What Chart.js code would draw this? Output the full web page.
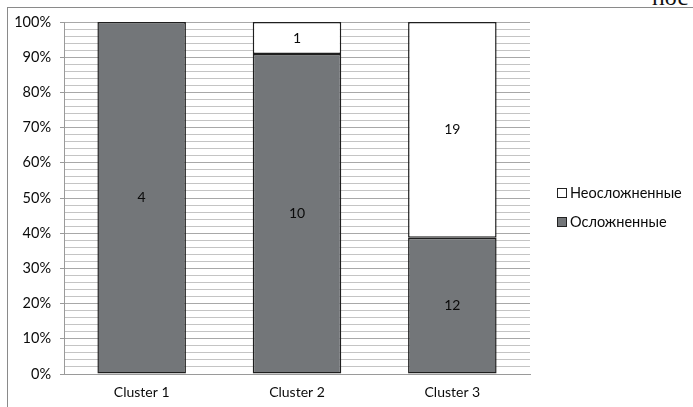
<!DOCTYPE html>
<html>
<head>
<meta charset="utf-8">
<script src="https://cdn.jsdelivr.net/npm/chart.js@4/dist/chart.umd.min.js"></script>
<style>
  html, body { margin: 0; padding: 0; background: #fff; overflow: hidden; }
  body { width: 693px; height: 407px; position: relative; }
  #frame { position: absolute; left: 7px; top: 7px; width: 700px; height: 410px;
           border-top: 1px solid #8a8a8a; border-left: 1px solid #8a8a8a; }
  #wrap { position: absolute; left: 8px; top: 8px; width: 685px; height: 399px; }
  #corner { position: absolute; left: 652px; top: -16px; font: 24px "Liberation Serif", serif; color: #111; }
</style>
</head>
<body>
<div id="frame"></div>
<div id="corner">пос</div>
<div id="wrap"><canvas id="c" width="685" height="399"></canvas></div>
<script>
// Patient counts per cluster
const categories = ['Cluster 1', 'Cluster 2', 'Cluster 3'];
const complicated = [4, 10, 12];     // Осложненные
const uncomplicated = [0, 1, 19];    // Неосложненные
const seriesNames = ['Осложненные', 'Неосложненные'];

// Shares of each cluster total, for the 100% stacked columns
const totals = categories.map((_, i) => complicated[i] + uncomplicated[i]);
const pct = arr => arr.map((v, i) => v / totals[i] * 100);

const countsByDataset = [complicated, uncomplicated];
const FONT = 'Lato, "Open Sans", sans-serif';
const TEXT = '#0a0a0a';

// Prints the raw counts in the middle of each segment
const segmentLabels = {
  id: 'segmentLabels',
  afterDatasetsDraw(chart) {
    const ctx = chart.ctx;
    ctx.save();
    ctx.font = '14px ' + FONT;
    ctx.fillStyle = TEXT;
    ctx.textAlign = 'center';
    ctx.textBaseline = 'middle';
    chart.data.datasets.forEach((ds, di) => {
      chart.getDatasetMeta(di).data.forEach((el, i) => {
        const n = countsByDataset[di][i];
        if (!n) return;
        ctx.fillText(String(n), el.x, (el.y + el.base) / 2);
      });
    });
    ctx.restore();
  }
};

// Legend on the right: hollow box first, then filled box
const sideLegend = {
  id: 'sideLegend',
  afterDraw(chart) {
    const ctx = chart.ctx;
    const items = [
      { label: seriesNames[1], fill: '#ffffff' },
      { label: seriesNames[0], fill: '#737679' }
    ];
    ctx.save();
    ctx.font = '14.5px ' + FONT;
    ctx.textBaseline = 'middle';
    ctx.textAlign = 'left';
    items.forEach((it, k) => {
      const y = 185 + k * 29;
      ctx.fillStyle = it.fill;
      ctx.fillRect(549.5, y - 4.5, 9, 9);
      ctx.strokeStyle = '#222';
      ctx.lineWidth = 1;
      ctx.strokeRect(549.5, y - 4.5, 9, 9);
      ctx.fillStyle = TEXT;
      ctx.fillText(it.label, 562, y);
    });
    ctx.restore();
  }
};

new Chart(document.getElementById('c'), {
  type: 'bar',
  data: {
    labels: categories,
    datasets: [
      { label: seriesNames[0], data: pct(complicated), backgroundColor: '#737679',
        borderColor: '#1e1e1e', borderWidth: 1.5, borderSkipped: false },
      { label: seriesNames[1], data: pct(uncomplicated), backgroundColor: '#ffffff',
        borderColor: '#1e1e1e', borderWidth: 1.5, borderSkipped: false }
    ]
  },
  options: {
    responsive: false,
    animation: false,
    devicePixelRatio: 1,
    categoryPercentage: 1,
    barPercentage: 0.57,
    layout: { padding: { top: 14, right: 163, left: 0, bottom: 0 } },
    plugins: { legend: { display: false }, tooltip: { enabled: false } },
    scales: {
      x: {
        stacked: true,
        grid: { display: false },
        border: { display: true, color: '#9a9a9a', width: 1 },
        ticks: { color: TEXT, padding: 2, font: { size: 14, family: FONT } },
        afterFit(s) { s.height = 33; s.paddingLeft = 0; s.paddingRight = 0; }
      },
      y: {
        stacked: true,
        min: 0, max: 100,
        afterBuildTicks(s) {
          const t = [];
          for (let v = 0; v <= 100; v += 2) t.push({ value: v });
          s.ticks = t;
        },
        ticks: {
          autoSkip: false,
          padding: 9,
          color: TEXT,
          font: { size: 14.5, family: FONT },
          callback: v => (v % 10 === 0 ? v + '%' : '')
        },
        grid: {
          tickLength: 4,
          lineWidth: 1,
          color: c => (c.tick && c.tick.value % 10 === 0 ? '#a8a8a8' : '#c4c4c4'),
          tickColor: c => (c.tick && c.tick.value % 10 === 0 ? '#9a9a9a' : 'rgba(0,0,0,0)')
        },
        border: { display: true, color: '#9a9a9a', width: 1 },
        afterFit(s) { s.width = 56; s.paddingTop = 0; s.paddingBottom = 0; }
      }
    }
  },
  plugins: [segmentLabels, sideLegend]
});
</script>
</body>
</html>
